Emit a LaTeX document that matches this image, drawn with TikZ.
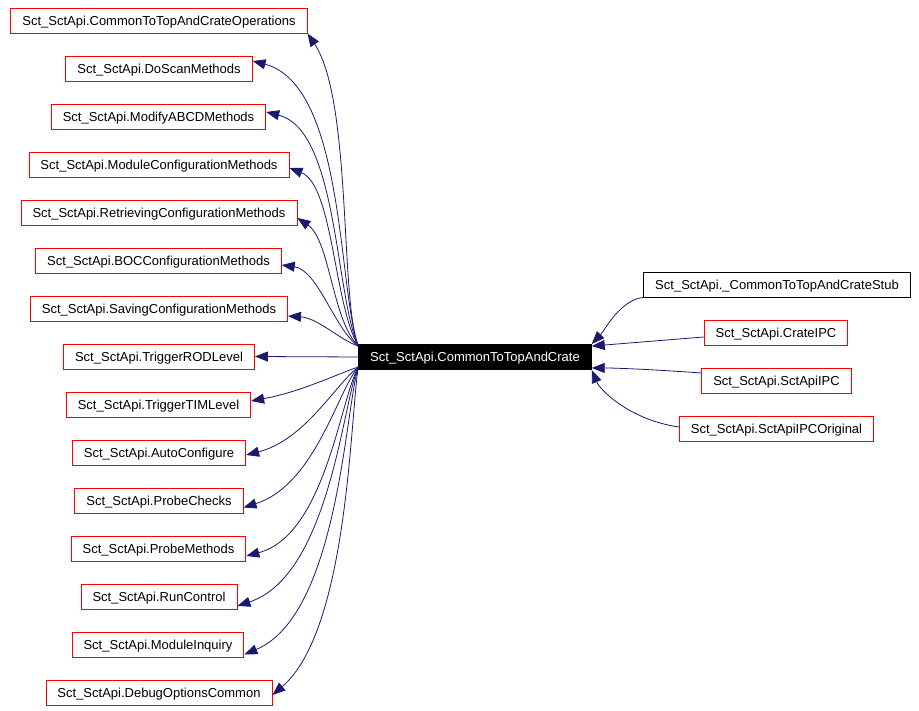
\documentclass[tikz,border=0pt]{standalone}
\usepackage{fontspec}
\setmainfont{Liberation Sans}
\usepackage{tikz}
\usetikzlibrary{positioning,arrows.meta}
\definecolor{edgeblue}{HTML}{191970}
\tikzset{cls/.style={draw=red,line width=0.9pt,fill=white,inner xsep=11.5pt,inner ysep=0pt,minimum height=25pt,text height=9.5pt,text depth=0pt,font=\fontsize{13pt}{15pt}\selectfont}}
\tikzset{stubcls/.style={cls,draw=black}}
\tikzset{maincls/.style={cls,draw=black,fill=black,text=white}}
\tikzset{inh/.style={-{Triangle[length=13pt,width=10pt]},draw=edgeblue,line width=0.8pt}}

\begin{document}
\begin{tikzpicture}[x=1pt,y=-1pt]
	\useasboundingbox (0,0) rectangle (919,711);
	\node[maincls] (C) at (475,357) {Sct\_SctApi.CommonToTopAndCrate};
	\node[cls] (ops) at (159,20.5) {Sct\_SctApi.CommonToTopAndCrateOperations};
	\node[cls] (scan) at (159,69) {Sct\_SctApi.DoScanMethods};
	\node[cls] (abcd) at (158.5,117) {Sct\_SctApi.ModifyABCDMethods};
	\node[cls] (modc) at (159,165) {Sct\_SctApi.ModuleConfigurationMethods};
	\node[cls] (retr) at (159,213) {Sct\_SctApi.RetrievingConfigurationMethods};
	\node[cls] (boc) at (158.5,260.5) {Sct\_SctApi.BOCConfigurationMethods};
	\node[cls] (save) at (159,308.5) {Sct\_SctApi.SavingConfigurationMethods};
	\node[cls] (rod) at (159,356.5) {Sct\_SctApi.TriggerRODLevel};
	\node[cls] (tim) at (158.5,404.5) {Sct\_SctApi.TriggerTIMLevel};
	\node[cls] (auto) at (159,452.5) {Sct\_SctApi.AutoConfigure};
	\node[cls] (pchk) at (159,500.5) {Sct\_SctApi.ProbeChecks};
	\node[cls] (pmeth) at (158.5,548.5) {Sct\_SctApi.ProbeMethods};
	\node[cls] (run) at (159,596.5) {Sct\_SctApi.RunControl};
	\node[cls] (inq) at (158,644.5) {Sct\_SctApi.ModuleInquiry};
	\node[cls] (dbg) at (159,692.5) {Sct\_SctApi.DebugOptionsCommon};
	\node[stubcls] (stub) at (777,284.5) {Sct\_SctApi.\_CommonToTopAndCrateStub};
	\node[cls] (cipc) at (776,332.5) {Sct\_SctApi.CrateIPC};
	\node[cls] (sipc) at (776.5,380.5) {Sct\_SctApi.SctApiIPC};
	\node[cls] (sipco) at (776.5,428.5) {Sct\_SctApi.SctApiIPCOriginal};
	
	\draw[inh] ([yshift=-2pt]C.north west) .. controls (340,300) and (352,100) .. (ops.south east);
	\draw[inh] ([yshift=-2pt]C.north west) .. controls (338,290) and (345,85) .. ([yshift=8pt]scan.east);
	\draw[inh] ([yshift=-2pt]C.north west) .. controls (335,295) and (338,130) .. ([yshift=5pt]abcd.east);
	\draw[inh] ([yshift=-2pt]C.north west) .. controls (334,305) and (333,185) .. ([yshift=-3pt]modc.east);
	\draw[inh] ([yshift=-2pt]C.north west) .. controls (332,320) and (330,240) .. ([yshift=-5pt]retr.east);
	\draw[inh] ([yshift=-2pt]C.north west) .. controls (335,330) and (318,270) .. ([yshift=-4.5pt]boc.east);
	\draw[inh] ([yshift=-2pt]C.north west) .. controls (340,340) and (318,318) .. ([yshift=-7.5pt]save.east);
	\draw[inh] (C.west) -- (rod.east);
	\draw[inh] ([yshift=3pt]C.south west) .. controls (335,375) and (300,392) .. ([yshift=3.5pt]tim.east);
	\draw[inh] ([yshift=3pt]C.south west) .. controls (335,385) and (305,440) .. ([yshift=-2.5pt]auto.east);
	\draw[inh] ([yshift=3pt]C.south west) .. controls (338,390) and (315,485) .. ([yshift=-7pt]pchk.east);
	\draw[inh] ([yshift=3pt]C.south west) .. controls (340,400) and (325,535) .. ([yshift=-7.5pt]pmeth.east);
	\draw[inh] ([yshift=3pt]C.south west) .. controls (343,400) and (330,575) .. ([yshift=-9.5pt]run.east);
	\draw[inh] ([yshift=3pt]C.south west) .. controls (345,410) and (338,615) .. ([yshift=-10pt]inq.east);
	\draw[inh] ([yshift=3pt]C.south west) .. controls (350,420) and (348,630) .. ([yshift=-2.5pt]dbg.east);
	
	\draw[inh] (stub.south west) .. controls (620,300) and (605,330) .. (C.north east);
	\draw[inh] ([yshift=-4.5pt]cipc.west) -- ([yshift=-2pt]C.north east);
	\draw[inh] ([yshift=7.5pt]sipc.west) .. controls (660,370) and (620,368) .. ([yshift=2pt]C.south east);
	\draw[inh] ([yshift=1.5pt]sipco.west) .. controls (630,420) and (600,390) .. (C.south east);
\end{tikzpicture}
\end{document}
